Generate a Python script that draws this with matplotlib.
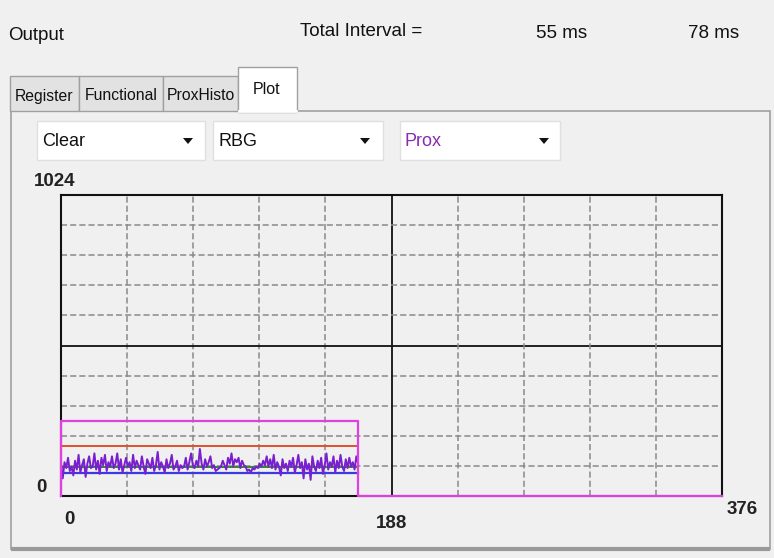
import matplotlib
matplotlib.use("Agg")
import matplotlib.pyplot as plt
from matplotlib.patches import Rectangle, Polygon
import numpy as np

# ---------------- data ----------------
x_max = 376
y_max = 1024
x_tick_labels = ["0", "188", "376"]
y_tick_labels = ["0", "1024"]

prox = [110, 60, 115, 95, 130, 85, 100, 70, 120, 90,
        140, 80, 105, 125, 65, 110, 135, 95, 100, 145,
        90, 120, 75, 130, 105, 140, 85, 115, 100, 135,
        95, 110, 145, 90, 125, 80, 105, 130, 100, 115,
        85, 140, 95, 120, 105, 90, 135, 100, 75, 125,
        110, 95, 130, 85, 105, 150, 90, 115, 100, 80,
        125, 95, 110, 140, 90, 100, 120, 85, 105, 95,
        100, 130, 90, 115, 145, 105, 95, 120, 100, 160,
        110, 90, 125, 100, 115, 135, 95, 105, 85, 90,
        95, 100, 120, 105, 90, 130, 110, 145, 100, 125,
        115, 130, 95, 120, 105, 100, 85, 90, 80, 95,
        90, 100, 95, 110, 100, 120, 105, 135, 100, 125,
        95, 140, 90, 115, 100, 70, 125, 95, 110, 85,
        120, 100, 130, 80, 105, 140, 95, 115, 60, 125,
        90, 110, 55, 135, 100, 85, 120, 95, 130, 75,
        105, 145, 90, 115, 100, 135, 80, 120, 95, 140,
        100, 85, 125, 95, 130, 100, 115, 90, 135, 110]
red_level = 170
green_level = 100
blue_level = 78
mag_x = [0, 0, 169, 169, 376]
mag_y = [0, 256, 256, 0, 0]

header_texts = ["Output", "Total Interval =", "55 ms", "78 ms"]
tab_names = ["Register", "Functional", "ProxHisto", "Plot"]
combo_names = ["Clear", "RBG", "Prox"]

# ---------------- figure ----------------
W, H = 774, 558
fig = plt.figure(figsize=(W / 100, H / 100), dpi=100)
fig.patch.set_facecolor("#f0f0f0")
FONT = ["Liberation Sans", "DejaVu Sans"]

ui = fig.add_axes([0, 0, 1, 1])
ui.set_xlim(0, W)
ui.set_ylim(H, 0)
ui.axis("off")
ui.set_zorder(0)

# header
hs = 13.5
ui.text(8, 36, header_texts[0], fontsize=hs, family=FONT, va="center", ha="left", color="#111111")
ui.text(361, 31, header_texts[1], fontsize=hs, family=FONT, va="center", ha="center", color="#111111")
ui.text(562, 33, header_texts[2], fontsize=hs, family=FONT, va="center", ha="center", color="#111111")
ui.text(714, 33, header_texts[3], fontsize=hs, family=FONT, va="center", ha="center", color="#111111")

# tab panel
ui.add_patch(Rectangle((11, 111), 759, 438, facecolor="#f0f0f0", edgecolor="#a0a0a0", lw=1.2))
ui.plot([11, 770], [549, 549], color="#9a9a9a", lw=3, solid_capstyle="butt")
tabs = [(10, 79), (79, 163), (163, 238)]
for (x0, x1), name in zip(tabs, tab_names[:3]):
    ui.add_patch(Rectangle((x0, 76), x1 - x0, 35, facecolor="#e2e2e2", edgecolor="#a0a0a0", lw=1.0))
    ui.text((x0 + x1) / 2, 96, name, fontsize=11.3, family=FONT, va="center", ha="center", color="#111111")
ui.add_patch(Rectangle((238, 67), 59, 45, facecolor="#ffffff", edgecolor="#a0a0a0", lw=1.0, zorder=3))
ui.plot([239, 296], [111, 111], color="#ffffff", lw=2, zorder=4)
ui.text(267, 89, tab_names[3], fontsize=11.5, family=FONT, va="center", ha="center", color="#111111", zorder=5)

# combo boxes
combos = [(37, 205, 188, "#111111"), (213, 383, 365, "#111111"), (400, 560, 544, "#8a2bb0")]
for (x0, x1, ax_, col), name in zip(combos, combo_names):
    ui.add_patch(Rectangle((x0, 121), x1 - x0, 39, facecolor="#ffffff", edgecolor="#e0e0e0", lw=1.0))
    ui.text(x0 + 5, 141, name, fontsize=13, family=FONT, va="center", ha="left", color=col)
    ui.add_patch(Polygon([[ax_ - 5, 138], [ax_ + 5, 138], [ax_, 144]], closed=True, facecolor="#111111", edgecolor="none"))

# axis labels
ls = 13.5
ui.text(34, 181, y_tick_labels[1], fontsize=ls, family=FONT, weight="bold", va="center", ha="left", color="#222222")
ui.text(36, 487, y_tick_labels[0], fontsize=ls, family=FONT, weight="bold", va="center", ha="left", color="#222222")
ui.text(69, 519, x_tick_labels[0], fontsize=ls, family=FONT, weight="bold", va="center", ha="center", color="#222222")
ui.text(392, 524, x_tick_labels[1], fontsize=ls, family=FONT, weight="bold", va="center", ha="center", color="#222222")
ui.text(742, 510, x_tick_labels[2], fontsize=ls, family=FONT, weight="bold", va="center", ha="center", color="#222222")

# ---------------- plot ----------------
l, r, t, b = 61, 722, 195, 496
ax = fig.add_axes([l / W, (H - b) / H, (r - l) / W, (b - t) / H])
ax.set_zorder(2)
ax.set_facecolor("#f0f0f0")
ax.set_xlim(0, x_max)
ax.set_ylim(0, y_max)
ax.set_xticks([])
ax.set_yticks([])
for s in ax.spines.values():
    s.set_color("#111111")
    s.set_linewidth(1.5)

for k in range(1, 10):
    xv = x_max * k / 10
    yv = y_max * k / 10
    if k == 5:
        ax.axvline(xv, color="#111111", lw=1.3, zorder=1)
        ax.axhline(yv, color="#111111", lw=1.3, zorder=1)
    else:
        ax.axvline(xv, color="#8a8a8a", lw=1.1, ls=(0, (4, 2)), zorder=1)
        ax.axhline(yv, color="#8a8a8a", lw=1.1, ls=(0, (4, 2)), zorder=1)

n = len(prox)
xs = np.arange(n)
ax.plot([0, n - 1], [red_level, red_level], color="#e0502a", lw=1.4, zorder=3)
ax.plot([0, n - 1], [green_level, green_level], color="#2e8b2e", lw=1.4, zorder=3)
ax.plot([0, n - 1], [blue_level, blue_level], color="#3a3ae0", lw=1.6, zorder=3)
ax.plot(xs, prox, color="#7a1fd0", lw=1.4, zorder=4)
ax.plot(mag_x, mag_y, color="#e040e0", lw=1.6, zorder=5, clip_on=False)

fig.savefig("out.png", dpi=100, facecolor=fig.get_facecolor())
